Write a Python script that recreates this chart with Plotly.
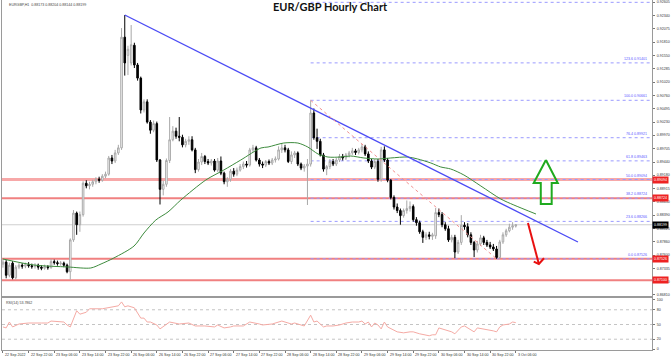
import plotly.graph_objects as go

# ---------------- data ----------------
bar_index = list(range(161))
opens = [0.8742,0.8746,0.8720,0.8744,0.8715,0.8736,0.8740,0.8738,0.8741,0.8739,
         0.8737,0.8740,0.8736,0.8734,0.8737,0.8735,0.8747,0.8745,0.8743,0.8744,
         0.8740,0.8727,0.8790,0.8843,0.8820,0.8840,0.8902,0.8897,0.8900,0.8905,
         0.8910,0.8908,0.8916,0.8920,0.8952,0.8946,0.8962,0.8972,0.9191,0.9155,
         0.9140,0.9175,0.9136,0.9110,0.9047,0.9063,0.9023,0.9007,0.9020,0.8948,
         0.8890,0.8900,0.8947,0.8988,0.9005,0.8995,0.8993,0.8978,0.8985,0.8988,
         0.8968,0.8929,0.8944,0.8955,0.8945,0.8942,0.8946,0.8928,0.8946,0.8922,
         0.8905,0.8910,0.8926,0.8920,0.8928,0.8935,0.8940,0.8938,0.8968,0.8972,
         0.8948,0.8940,0.8938,0.8945,0.8942,0.8948,0.8950,0.8968,0.8972,0.8968,
         0.8945,0.8958,0.8962,0.8940,0.8932,0.8936,0.8940,0.9041,0.8992,0.8985,
         0.8958,0.8930,0.8935,0.8945,0.8940,0.8948,0.8955,0.8952,0.8958,0.8962,
         0.8966,0.8963,0.8968,0.8974,0.8960,0.8946,0.8934,0.8945,0.8910,0.8968,
         0.8948,0.8908,0.8874,0.8855,0.8848,0.8838,0.8848,0.8852,0.8856,0.8830,
         0.8824,0.8806,0.8795,0.8800,0.8797,0.8798,0.8844,0.8840,0.8820,0.8812,
         0.8790,0.8795,0.8766,0.8785,0.8819,0.8816,0.8800,0.8785,0.8770,0.8782,
         0.8794,0.8785,0.8780,0.8776,0.8772,0.8755,0.8786,0.8800,0.8808,0.8815,
         0.88173]
highs = [0.8752,0.8750,0.8745,0.8748,0.8740,0.8744,0.8744,0.8745,0.8746,0.8743,
         0.8744,0.8743,0.8740,0.8741,0.8740,0.8752,0.8751,0.8749,0.8748,0.8747,
         0.8743,0.8793,0.8849,0.8846,0.8846,0.8906,0.8908,0.8905,0.8909,0.8914,
         0.8915,0.8920,0.8925,0.8956,0.8958,0.8968,0.8978,0.9209,0.92348,0.9174,
         0.9215,0.9180,0.9140,0.9113,0.9068,0.9068,0.9027,0.9026,0.9024,0.8950,
         0.8907,0.8951,0.9033,0.9015,0.9012,0.9033,0.8998,0.8990,0.8995,0.8995,
         0.8972,0.8950,0.8962,0.8958,0.8950,0.8950,0.8950,0.8952,0.8955,0.8925,
         0.8914,0.8930,0.8932,0.8933,0.8940,0.8945,0.8946,0.8972,0.8978,0.8976,
         0.8952,0.8945,0.8948,0.8949,0.8952,0.8955,0.8975,0.8980,0.8978,0.8972,
         0.8965,0.8966,0.8965,0.8943,0.8940,0.8950,0.90661,0.9050,0.9010,0.8990,
         0.8962,0.8938,0.8950,0.8950,0.8952,0.8960,0.8960,0.8962,0.8966,0.8972,
         0.8970,0.8972,0.8980,0.8978,0.8965,0.8950,0.8950,0.8950,0.8974,0.8975,
         0.8952,0.8910,0.8878,0.8862,0.8852,0.8852,0.8868,0.8866,0.8860,0.8835,
         0.8828,0.8810,0.8805,0.8806,0.8804,0.8853,0.8852,0.8845,0.8825,0.8818,
         0.8800,0.8800,0.8790,0.8839,0.8825,0.8823,0.8805,0.8788,0.8788,0.8800,
         0.8798,0.8790,0.8786,0.8782,0.8778,0.8790,0.8805,0.8812,0.8822,0.8825,
         0.88204]
lows = [0.8735,0.8714,0.8716,0.8712,0.8712,0.8732,0.8733,0.8734,0.8735,0.8733,
        0.8733,0.8731,0.8730,0.8731,0.8731,0.8733,0.8741,0.8739,0.8739,0.8736,
        0.8724,0.8711,0.8786,0.8800,0.8806,0.8836,0.8892,0.8890,0.8895,0.8900,
        0.8903,0.8905,0.8912,0.8917,0.8940,0.8942,0.8958,0.8968,0.9115,0.9116,
        0.9135,0.9130,0.9105,0.9040,0.9042,0.9020,0.9000,0.9003,0.8944,0.8860,
        0.8878,0.8895,0.8942,0.8985,0.8990,0.8985,0.8973,0.8973,0.8978,0.8965,
        0.8922,0.8925,0.8938,0.8940,0.8938,0.8937,0.8925,0.8924,0.8918,0.8900,
        0.8895,0.8905,0.8915,0.8916,0.8925,0.8930,0.8933,0.8935,0.8964,0.8945,
        0.8935,0.8932,0.8934,0.8938,0.8938,0.8943,0.8947,0.8962,0.8963,0.8942,
        0.8940,0.8952,0.8936,0.8928,0.8925,0.8859,0.8935,0.8988,0.8970,0.8955,
        0.8925,0.8918,0.8930,0.8936,0.8936,0.8944,0.8947,0.8948,0.8953,0.8958,
        0.8958,0.8959,0.8963,0.8956,0.8942,0.8930,0.8930,0.8905,0.8905,0.8944,
        0.8904,0.8870,0.8850,0.8843,0.8820,0.8834,0.8842,0.8846,0.8826,0.8818,
        0.8802,0.8784,0.8790,0.8791,0.8790,0.8792,0.8835,0.8815,0.8808,0.8786,
        0.8785,0.8754,0.8762,0.8780,0.8810,0.8795,0.8780,0.8756,0.8765,0.8778,
        0.8780,0.8776,0.8772,0.8768,0.87526,0.8753,0.8782,0.8796,0.8805,0.8810,
        0.88144]
closes = [0.8746,0.8720,0.8740,0.8715,0.8736,0.8740,0.8738,0.8741,0.8739,0.8737,
          0.8740,0.8736,0.8734,0.8737,0.8735,0.8747,0.8745,0.8743,0.8744,0.8740,
          0.8727,0.8790,0.8843,0.8820,0.8840,0.8902,0.8897,0.8900,0.8905,0.8910,
          0.8908,0.8916,0.8920,0.8952,0.8946,0.8962,0.8972,0.9191,0.9140,0.9167,
          0.9176,0.9136,0.9110,0.9047,0.9063,0.9023,0.9007,0.9020,0.8948,0.8890,
          0.8900,0.8947,0.8988,0.9005,0.8995,0.8993,0.8978,0.8985,0.8988,0.8968,
          0.8929,0.8944,0.8955,0.8945,0.8942,0.8946,0.8928,0.8946,0.8922,0.8905,
          0.8910,0.8926,0.8920,0.8928,0.8935,0.8940,0.8938,0.8968,0.8972,0.8948,
          0.8940,0.8938,0.8945,0.8942,0.8948,0.8950,0.8968,0.8972,0.8968,0.8945,
          0.8958,0.8962,0.8940,0.8932,0.8936,0.8940,0.9041,0.8992,0.8985,0.8958,
          0.8930,0.8935,0.8945,0.8940,0.8948,0.8955,0.8952,0.8958,0.8962,0.8966,
          0.8963,0.8968,0.8974,0.8960,0.8946,0.8934,0.8945,0.8910,0.8968,0.8948,
          0.8908,0.8874,0.8855,0.8848,0.8838,0.8848,0.8852,0.8856,0.8830,0.8824,
          0.8806,0.8795,0.8800,0.8797,0.8800,0.8844,0.8840,0.8820,0.8812,0.8790,
          0.8795,0.8766,0.8785,0.8819,0.8816,0.8800,0.8785,0.8770,0.8782,0.8794,
          0.8785,0.8780,0.8776,0.8772,0.8755,0.8786,0.8800,0.8808,0.8815,0.8818,
          0.88199]

ma_index = [0, 9.7, 20.3, 27.4, 30.6, 34.6, 40.9, 44.0, 47.7, 51.5, 55.5, 63.3,
            68.9, 74.2, 80.5, 82.7, 87.6, 92.0, 95.1, 98.3, 101.4, 105.4, 108.5,
            112.6, 117.0, 121.0, 126.3, 129.4, 133.5, 136.6, 139.7, 143.8, 149.1,
            155.3, 159.4, 166.3]
ma_values = [0.87522, 0.87403, 0.87364, 0.87344, 0.87423, 0.87542, 0.87779, 0.88036,
             0.88293, 0.88452, 0.88689, 0.89085, 0.89282, 0.89480, 0.89718, 0.89737,
             0.89816, 0.89816, 0.89737, 0.89599, 0.89539, 0.89539, 0.89559, 0.89520,
             0.89500, 0.89520, 0.89539, 0.89500, 0.89421, 0.89342, 0.89302, 0.89184,
             0.88966, 0.88709, 0.88590, 0.88412]

rsi_index = [0,1,2,3,5,8,12,14,15,19,20,21,23,24,26,27,31,35,36,37,38,39,41,43,44,
             45,46,48,49,52,55,58,60,63,66,67,69,71,72,75,77,80,81,84,87,90,91,94,
             96,97,98,100,101,103,105,107,109,111,112,113,114,115,116,117,118,119,
             120,123,125,127,128,130,133,134,135,136,137,139,140,141,142,143,144,
             146,147,148,150,153,154,155,156,158,159,160]
rsi_values = [45,43,55,45,51,53,53,53,57,55,49,45,78,71,75,82,82,86,88,96,86,88,84,
              63,63,55,55,49,41,55,51,53,47,47,45,49,43,45,47,47,55,51,49,51,57,51,
              53,47,69,55,57,45,47,47,49,53,55,55,57,51,55,45,53,49,41,55,45,35,33,
              35,35,31,27,29,29,43,41,37,35,31,37,45,47,39,35,43,41,37,35,45,49,51,
              55,53.79]

label_bars = [0, 8, 16, 24, 32, 40, 48, 56, 64, 72, 80, 88, 96, 104, 112, 120,
              128, 136, 144, 152, 160]
time_labels = ["22 Sep 2022", "22 Sep 22:00", "23 Sep 06:00", "23 Sep 14:00",
               "23 Sep 22:00", "26 Sep 06:00", "26 Sep 14:00", "26 Sep 22:00",
               "27 Sep 06:00", "27 Sep 14:00", "27 Sep 22:00", "28 Sep 06:00",
               "28 Sep 14:00", "28 Sep 22:00", "29 Sep 06:00", "29 Sep 14:00",
               "29 Sep 22:00", "30 Sep 06:00", "30 Sep 14:00", "30 Sep 22:00",
               "3 Oct 06:00"]

price_ticks = [0.92605, 0.92340, 0.92075, 0.91810, 0.91550, 0.91285, 0.91020,
               0.90760, 0.90495, 0.90230, 0.89970, 0.89705, 0.89440, 0.89180,
               0.88915, 0.88650, 0.88390, 0.88125, 0.87860, 0.87600, 0.87335,
               0.87070, 0.86810]
rsi_ticks = [100, 80, 50, 20, 0]
rsi_levels = [80, 50, 20]

fib_names = ["0.0", "23.6", "38.2", "50.0", "61.8", "76.4", "100.0", "123.6", "161.8"]
fib_prices = [0.87526, 0.88266, 0.88724, 0.89094, 0.89463, 0.89921, 0.90661, 0.91401, 0.92599]
fib_start_bar = 96

red_levels = [0.89094, 0.88724, 0.87526, 0.87100]
red_widths = [3, 2, 2, 2]
red_colors = ["#f7a8a8", "#f08080", "#f08080", "#f08080"]

trend_bars = [38, 179.4]
trend_prices = [0.92348, 0.87858]
fib_link_bars = [96, 154]
fib_link_prices = [0.90661, 0.87526]

green_arrow_bars = [169.4, 173.1, 171.2, 171.2, 167.8, 167.8, 165.6, 169.4]
green_arrow_prices = [0.8948, 0.89025, 0.89025, 0.88610, 0.88610, 0.89025, 0.89025, 0.8948]
red_arrow_bars = [163.8, 167.2, None, 165.6, 167.2, 168.8]
red_arrow_prices = [0.88234, 0.87423, None, 0.87469, 0.87423, 0.87536]

current_price = 0.88199
header_text = "EURGBP,H1  0.88173 0.88204 0.88144 0.88199"
rsi_text = "RSI(14) 53.7862"
title_text = "EUR/GBP Hourly Chart"

# ---------------- figure ----------------
FONT = "Liberation Sans"
SMALL = 3.6
X_RANGE = [-0.3, 202.5]
MAIN_DOMAIN = [0.1543, 1.0]
RSI_DOMAIN = [0.0, 0.1486]

fig = go.Figure()

fig.add_trace(go.Candlestick(
    x=bar_index, open=opens, high=highs, low=lows, close=closes,
    increasing=dict(line=dict(color="#a8a8a8", width=1), fillcolor="#ffffff"),
    decreasing=dict(line=dict(color="#000000", width=1), fillcolor="#000000"),
    whiskerwidth=0, xaxis="x", yaxis="y", hoverinfo="skip", showlegend=False))

fig.add_trace(go.Scatter(x=ma_index, y=ma_values, mode="lines",
                         line=dict(color="#3d8b3d", width=1, shape="spline", smoothing=0.8),
                         xaxis="x", yaxis="y", showlegend=False, hoverinfo="skip"))

fig.add_trace(go.Scatter(x=trend_bars, y=trend_prices, mode="lines",
                         line=dict(color="#4b4bf5", width=1.3),
                         xaxis="x", yaxis="y", showlegend=False, hoverinfo="skip"))

fig.add_trace(go.Scatter(x=fib_link_bars, y=fib_link_prices, mode="lines",
                         line=dict(color="#f29090", width=1, dash="dot"),
                         xaxis="x", yaxis="y", showlegend=False, hoverinfo="skip"))

fig.add_trace(go.Scatter(x=green_arrow_bars, y=green_arrow_prices, mode="lines",
                         line=dict(color="#1faa1f", width=2),
                         xaxis="x", yaxis="y", showlegend=False, hoverinfo="skip"))

fig.add_trace(go.Scatter(x=red_arrow_bars, y=red_arrow_prices, mode="lines",
                         line=dict(color="#e81010", width=2),
                         xaxis="x", yaxis="y", showlegend=False, hoverinfo="skip",
                         connectgaps=False))

fig.add_trace(go.Scatter(x=rsi_index, y=rsi_values, mode="lines",
                         line=dict(color="#f5aaa4", width=1),
                         xaxis="x2", yaxis="y2", showlegend=False, hoverinfo="skip"))

shapes = []
shapes.append(dict(type="line", xref="paper", x0=0, x1=1, yref="y", y0=current_price,
                   y1=current_price, line=dict(color="#cfcfcf", width=1), layer="below"))
for p in fib_prices:
    shapes.append(dict(type="line", xref="x", x0=fib_start_bar, x1=X_RANGE[1], yref="y",
                       y0=p, y1=p, line=dict(color="#9a9aff", width=1, dash="dot"),
                       layer="below"))
for p, w, c in zip(red_levels, red_widths, red_colors):
    shapes.append(dict(type="line", xref="paper", x0=0, x1=1, yref="y", y0=p, y1=p,
                       line=dict(color=c, width=w), layer="below"))
for v in rsi_levels:
    shapes.append(dict(type="line", xref="paper", x0=0, x1=1, yref="y2", y0=v, y1=v,
                       line=dict(color="#c4c4c4", width=1, dash="dot"), layer="below"))

annotations = []
annotations.append(dict(text="<b>" + title_text + "</b>", xref="paper", yref="paper",
                        x=0.506, y=0.981, xanchor="center", yanchor="middle",
                        showarrow=False, font=dict(family="Lato", size=11, color="#111111")))
annotations.append(dict(text=header_text, xref="paper", yref="paper", x=0.008, y=0.996,
                        xanchor="left", yanchor="top", showarrow=False,
                        font=dict(family=FONT, size=SMALL, color="#444444")))
annotations.append(dict(text=rsi_text, xref="paper", yref="paper", x=0.003,
                        y=RSI_DOMAIN[1] - 0.004, xanchor="left", yanchor="top",
                        showarrow=False, font=dict(family=FONT, size=SMALL, color="#444444")))
for name, p in zip(fib_names, fib_prices):
    top = p > 0.926
    annotations.append(dict(text=f"{name} {p:.5f}", xref="paper", yref="y", x=0.996, y=p,
                            xanchor="right", yanchor="top" if top else "bottom",
                            yshift=-4 if top else 0, showarrow=False,
                            font=dict(family=FONT, size=SMALL, color="#5a5aff")))
for p in red_levels:
    annotations.append(dict(text=f"{p:.5f}", xref="paper", yref="y", x=1.0, y=p,
                            xanchor="left", yanchor="middle", showarrow=False,
                            bgcolor="#ee2222", borderpad=1,
                            font=dict(family=FONT, size=SMALL, color="#ffffff")))
annotations.append(dict(text=f"{current_price:.5f}", xref="paper", yref="y", x=1.0,
                        y=current_price, xanchor="left", yanchor="middle", showarrow=False,
                        bgcolor="#000000", borderpad=1,
                        font=dict(family=FONT, size=SMALL, color="#ffffff")))
for b, t in zip(label_bars, time_labels):
    annotations.append(dict(text=t, xref="x2", yref="paper", x=b, y=0, xanchor="left",
                            yanchor="top", yshift=-1, showarrow=False,
                            font=dict(family=FONT, size=SMALL, color="#333333")))

fig.update_layout(
    width=672, height=360,
    margin=dict(l=2, r=20, t=0, b=10),
    paper_bgcolor="#ffffff", plot_bgcolor="#ffffff",
    showlegend=False,
    shapes=shapes, annotations=annotations,
    xaxis=dict(domain=[0, 1], range=X_RANGE, anchor="y", showgrid=False, zeroline=False,
               showticklabels=False, rangeslider=dict(visible=False), showline=True,
               linecolor="#9a9a9a", linewidth=1, mirror=True, ticks="", autorange=False),
    xaxis2=dict(domain=[0, 1], range=X_RANGE, anchor="y2", showgrid=False, autorange=False,
                zeroline=False, showticklabels=False, showline=True, linecolor="#9a9a9a",
                linewidth=1, mirror=True, ticks="outside", ticklen=2, tickcolor="#777777",
                tickvals=label_bars),
    yaxis=dict(domain=MAIN_DOMAIN, range=[0.86790, 0.92645], side="right", anchor="x",
               showgrid=False, zeroline=False, tickvals=price_ticks, automargin=False,
               ticktext=[f"{v:.5f}" for v in price_ticks], ticks="outside", ticklen=2,
               tickcolor="#777777", ticklabelstandoff=1,
               tickfont=dict(family=FONT, size=SMALL, color="#333333"),
               showline=True, linecolor="#9a9a9a", linewidth=1, mirror=True),
    yaxis2=dict(domain=RSI_DOMAIN, range=[-2, 104], side="right", anchor="x2",
                showgrid=False, zeroline=False, tickvals=rsi_ticks, ticks="outside",
                ticklen=2, tickcolor="#777777", automargin=False, ticklabelstandoff=1,
                tickfont=dict(family=FONT, size=SMALL, color="#333333"),
                showline=True, linecolor="#9a9a9a", linewidth=1, mirror=True),
)

fig.write_html("out.html", config={"displayModeBar": False, "staticPlot": True},
               post_script="document.body.style.margin='0px';"
                           "document.body.style.overflow='hidden';")
